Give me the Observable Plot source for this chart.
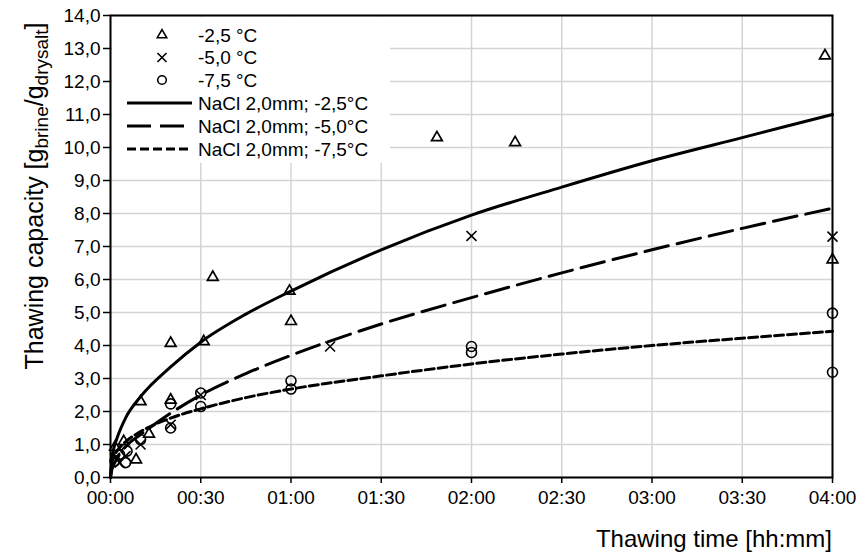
<!DOCTYPE html>
<html>
<head>
<meta charset="utf-8">
<script src="https://cdn.jsdelivr.net/npm/d3@7"></script>
<script src="https://cdn.jsdelivr.net/npm/@observablehq/plot@0.6"></script>
<style>
  html, body { margin: 0; padding: 0; background: #fff; }
  #chart svg { display: block; }
</style>
</head>
<body>
<div id="chart"></div>
<script>
// ---- data (time in minutes, thawing capacity in g_brine/g_drysalt) ----
const tri25T = [1.5, 4.4, 8.5, 10, 12.8, 20, 20, 31, 34, 59.5, 60, 108.5, 134.5, 237.5, 240];
const tri25V = [0.92, 1.09, 0.54, 2.3, 1.32, 4.07, 2.35, 4.12, 6.07, 5.65, 4.73, 10.3, 10.15, 12.78, 6.6];

const x50T = [1.5, 3, 5, 10, 20, 30, 73, 120, 240];
const x50V = [0.6, 0.45, 0.65, 1.0, 1.6, 2.5, 3.97, 7.32, 7.3];

const o75T = [1.5, 3, 5, 5.5, 10, 20, 20, 30, 30, 60, 60, 120, 120, 240, 240];
const o75V = [0.5, 0.7, 0.45, 0.8, 1.15, 2.23, 1.5, 2.56, 2.15, 2.93, 2.68, 3.97, 3.79, 4.98, 3.19];

// trend curves
const fitT = [0, 0.5, 1, 2, 5, 10, 20, 30, 45, 60, 90, 120, 150, 180, 210, 240];
const fit25 = [0, 0.6, 0.85, 1.15, 1.8, 2.45, 3.35, 4.1, 4.95, 5.65, 6.9, 7.95, 8.8, 9.6, 10.3, 11.0];
const fit50 = [0, 0.25, 0.37, 0.55, 0.93, 1.3, 1.95, 2.5, 3.15, 3.7, 4.65, 5.45, 6.2, 6.9, 7.55, 8.16];
const fit75 = [0, 0.45, 0.6, 0.78, 1.08, 1.39, 1.8, 2.08, 2.42, 2.68, 3.08, 3.44, 3.74, 4.0, 4.22, 4.43];

const xTicks = [0, 30, 60, 90, 120, 150, 180, 210, 240];
const yTicks = [0, 1, 2, 3, 4, 5, 6, 7, 8, 9, 10, 11, 12, 13, 14];

const seriesLabels = ["-2,5 °C", "-5,0 °C", "-7,5 °C"];
const fitLabels = ["NaCl 2,0mm; -2,5°C", "NaCl 2,0mm; -5,0°C", "NaCl 2,0mm; -7,5°C"];
const xTitle = "Thawing time [hh:mm]";

// ---- build tables ----
const toRows = (T, V) => T.map((t, i) => ({t, v: V[i]}));
const tri = toRows(tri25T, tri25V);
const crs = toRows(x50T, x50V);
const cir = toRows(o75T, o75V);
const f25 = toRows(fitT, fit25);
const f50 = toRows(fitT, fit50);
const f75 = toRows(fitT, fit75);

const hhmm = m => String(Math.floor(m / 60)).padStart(2, "0") + ":" + String(m % 60).padStart(2, "0");
const FONT = "Liberation Sans, Arial, sans-serif";
const FS = 19;

const dash50 = "24,9";
const dash75 = "9,4";

const plot = Plot.plot({
  width: 867,
  height: 558,
  marginLeft: 110,
  marginRight: 35,
  marginTop: 15,
  marginBottom: 81,
  style: {fontFamily: FONT, fontSize: FS + "px", color: "#000", background: "#fff"},
  x: {domain: [0, 240]},
  y: {domain: [0, 14]},
  marks: [
    Plot.gridX(xTicks, {stroke: "#d4d4d4", strokeOpacity: 1, strokeWidth: 1.5}),
    Plot.gridY(yTicks, {stroke: "#d4d4d4", strokeOpacity: 1, strokeWidth: 1.5}),
    Plot.axisX({ticks: xTicks, tickFormat: hhmm, tickSize: 6, tickPadding: 7, label: null, fontSize: FS, strokeWidth: 1.5}),
    Plot.axisY({ticks: yTicks, tickFormat: d => d.toFixed(1).replace(".", ","), tickSize: 7, tickPadding: 3, label: null, fontSize: FS, strokeWidth: 1.5}),
    Plot.line(f25, {x: "t", y: "v", stroke: "black", strokeWidth: 3, curve: "monotone-x"}),
    Plot.line(f50, {x: "t", y: "v", stroke: "black", strokeWidth: 3, strokeDasharray: dash50, curve: "monotone-x"}),
    Plot.line(f75, {x: "t", y: "v", stroke: "black", strokeWidth: 3, strokeDasharray: dash75, curve: "monotone-x"}),
    Plot.dot(tri, {x: "t", y: "v", symbol: "triangle", r: 4, stroke: "black", fill: "none", strokeWidth: 1.7}),
    Plot.dot(crs, {x: "t", y: "v", symbol: "times", r: 4.6, stroke: "black", fill: "none", strokeWidth: 1.6}),
    Plot.dot(cir, {x: "t", y: "v", symbol: "circle", r: 5, stroke: "black", fill: "none", strokeWidth: 1.6}),
    Plot.frame({stroke: "black", strokeWidth: 2})
  ]
});

document.getElementById("chart").appendChild(plot);

// ---- titles and legend added to the same SVG ----
const svg = d3.select(plot);

// x title
svg.append("text")
  .attr("x", 832).attr("y", 547)
  .attr("text-anchor", "end")
  .attr("font-family", FONT).attr("font-size", 24)
  .attr("fill", "black")
  .text(xTitle);

// y title with subscripts
const yt = svg.append("text")
  .attr("transform", "translate(43,196) rotate(-90)")
  .attr("text-anchor", "middle")
  .attr("font-family", FONT).attr("font-size", 25)
  .attr("fill", "black");
yt.append("tspan").text("Thawing capacity [g");
yt.append("tspan").attr("font-size", 19).attr("dy", 5).text("brine");
yt.append("tspan").attr("dy", -5).text("/g");
yt.append("tspan").attr("font-size", 19).attr("dy", 5).text("drysalt");
yt.append("tspan").attr("dy", -5).text("]");

// legend
const lg = svg.append("g").attr("font-family", FONT).attr("font-size", FS).attr("text-anchor", "start");
lg.append("rect").attr("x", 112).attr("y", 17).attr("width", 278).attr("height", 146).attr("fill", "white");
const rowY = [35, 57.5, 80, 103, 126, 149];
const symTri = d3.symbol(d3.symbolTriangle, Math.PI * 3.5 * 3.5)();
const symTimes = d3.symbol(d3.symbolTimes, Math.PI * 4.2 * 4.2)();
const symCirc = d3.symbol(d3.symbolCircle, Math.PI * 4.3 * 4.3)();
[symTri, symTimes, symCirc].forEach((p, i) => {
  lg.append("path").attr("d", p).attr("transform", `translate(162,${rowY[i]})`)
    .attr("fill", "none").attr("stroke", "black").attr("stroke-width", 1.6);
  lg.append("text").attr("x", 198).attr("y", rowY[i]).attr("dy", "0.35em").attr("text-anchor", "start").text(seriesLabels[i]);
});
[null, dash50, dash75].forEach((d, i) => {
  const yy = rowY[i + 3];
  const ln = lg.append("line").attr("x1", 127).attr("x2", 192).attr("y1", yy).attr("y2", yy)
    .attr("stroke", "black").attr("stroke-width", 3);
  if (d) ln.attr("stroke-dasharray", d);
  lg.append("text").attr("x", 198).attr("y", yy).attr("dy", "0.35em").attr("text-anchor", "start").text(fitLabels[i]);
});
</script>
</body>
</html>
